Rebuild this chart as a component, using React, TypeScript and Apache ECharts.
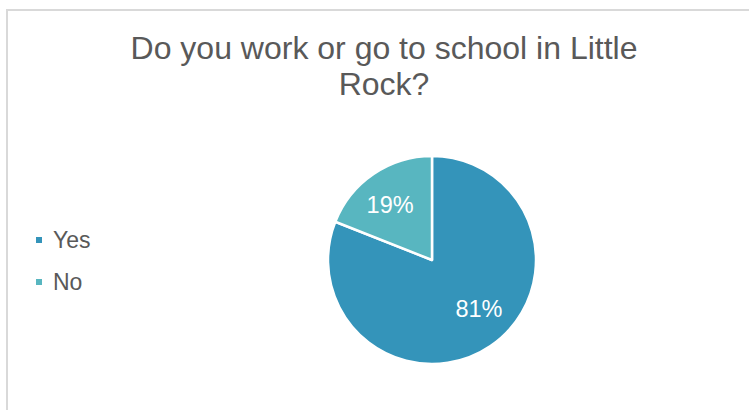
import React, { useEffect, useRef } from "react";
import * as echarts from "echarts";

const categories = ["Yes", "No"];
const values = [81, 19];
const colors = ["#3494BA", "#58B6C0"];
const titleText = "Do you work or go to school in Little\nRock?";

export default function App() {
  const ref = useRef<HTMLDivElement>(null);
  useEffect(() => {
    document.body.style.margin = "0";
    const chart = echarts.init(ref.current!, null, { renderer: "svg" });
    const data = categories.map((name, i) => ({
      name,
      value: values[i],
      itemStyle: { color: colors[i] },
    }));
    const font = "Liberation Sans";
    const labelShift = [
      { dx: 7, dy: -10 },
      { dx: -2, dy: 4 },
    ];
    chart.setOption({
      animation: false,
      backgroundColor: "#ffffff",
      textStyle: { fontFamily: font },
      title: {
        text: titleText,
        left: 384,
        top: 30,
        padding: 0,
        textAlign: "center",
        textStyle: {
          fontFamily: font,
          fontSize: 32,
          fontWeight: "normal",
          color: "#595959",
          lineHeight: 36,
        },
      },
      legend: {
        orient: "vertical",
        left: 36,
        top: 228.5,
        padding: 0,
        itemWidth: 6,
        itemHeight: 6,
        itemGap: 19,
        icon: "rect",
        itemStyle: { borderWidth: 0 },
        data: categories,
        textStyle: {
          fontFamily: font,
          fontSize: 23,
          color: "#595959",
          lineHeight: 23,
          padding: [0, 0, 0, 6],
        },
      },
      graphic: [
        {
          type: "polyline",
          shape: { points: [[7, 410], [7, 10], [749, 10]] },
          style: { stroke: "#D9D9D9", lineWidth: 2, fill: "none" },
          silent: true,
        },
      ],
      series: [
        {
          type: "pie",
          center: [432, 260],
          radius: [0, 104],
          startAngle: 90,
          clockwise: true,
          label: { show: false },
          labelLine: { show: false },
          itemStyle: { borderColor: "#ffffff", borderWidth: 2.5 },
          emphasis: { disabled: true },
          data,
        },
        {
          type: "pie",
          center: [432, 260],
          radius: [32, 104],
          startAngle: 90,
          clockwise: true,
          silent: true,
          legendHoverLink: false,
          itemStyle: { color: "rgba(0,0,0,0)", borderWidth: 0 },
          label: {
            show: true,
            position: "inside",
            formatter: "{d}%",
            color: "#ffffff",
            fontFamily: font,
            fontSize: 23.5,
          },
          labelLayout: (p: any) => labelShift[p.dataIndex] || {},
          labelLine: { show: false },
          emphasis: { disabled: true },
          data: categories.map((name, i) => ({ name: name + "_l", value: values[i] })),
        },
      ],
    });
    return () => chart.dispose();
  }, []);
  return <div ref={ref} style={{ width: 749, height: 410 }} />;
}
